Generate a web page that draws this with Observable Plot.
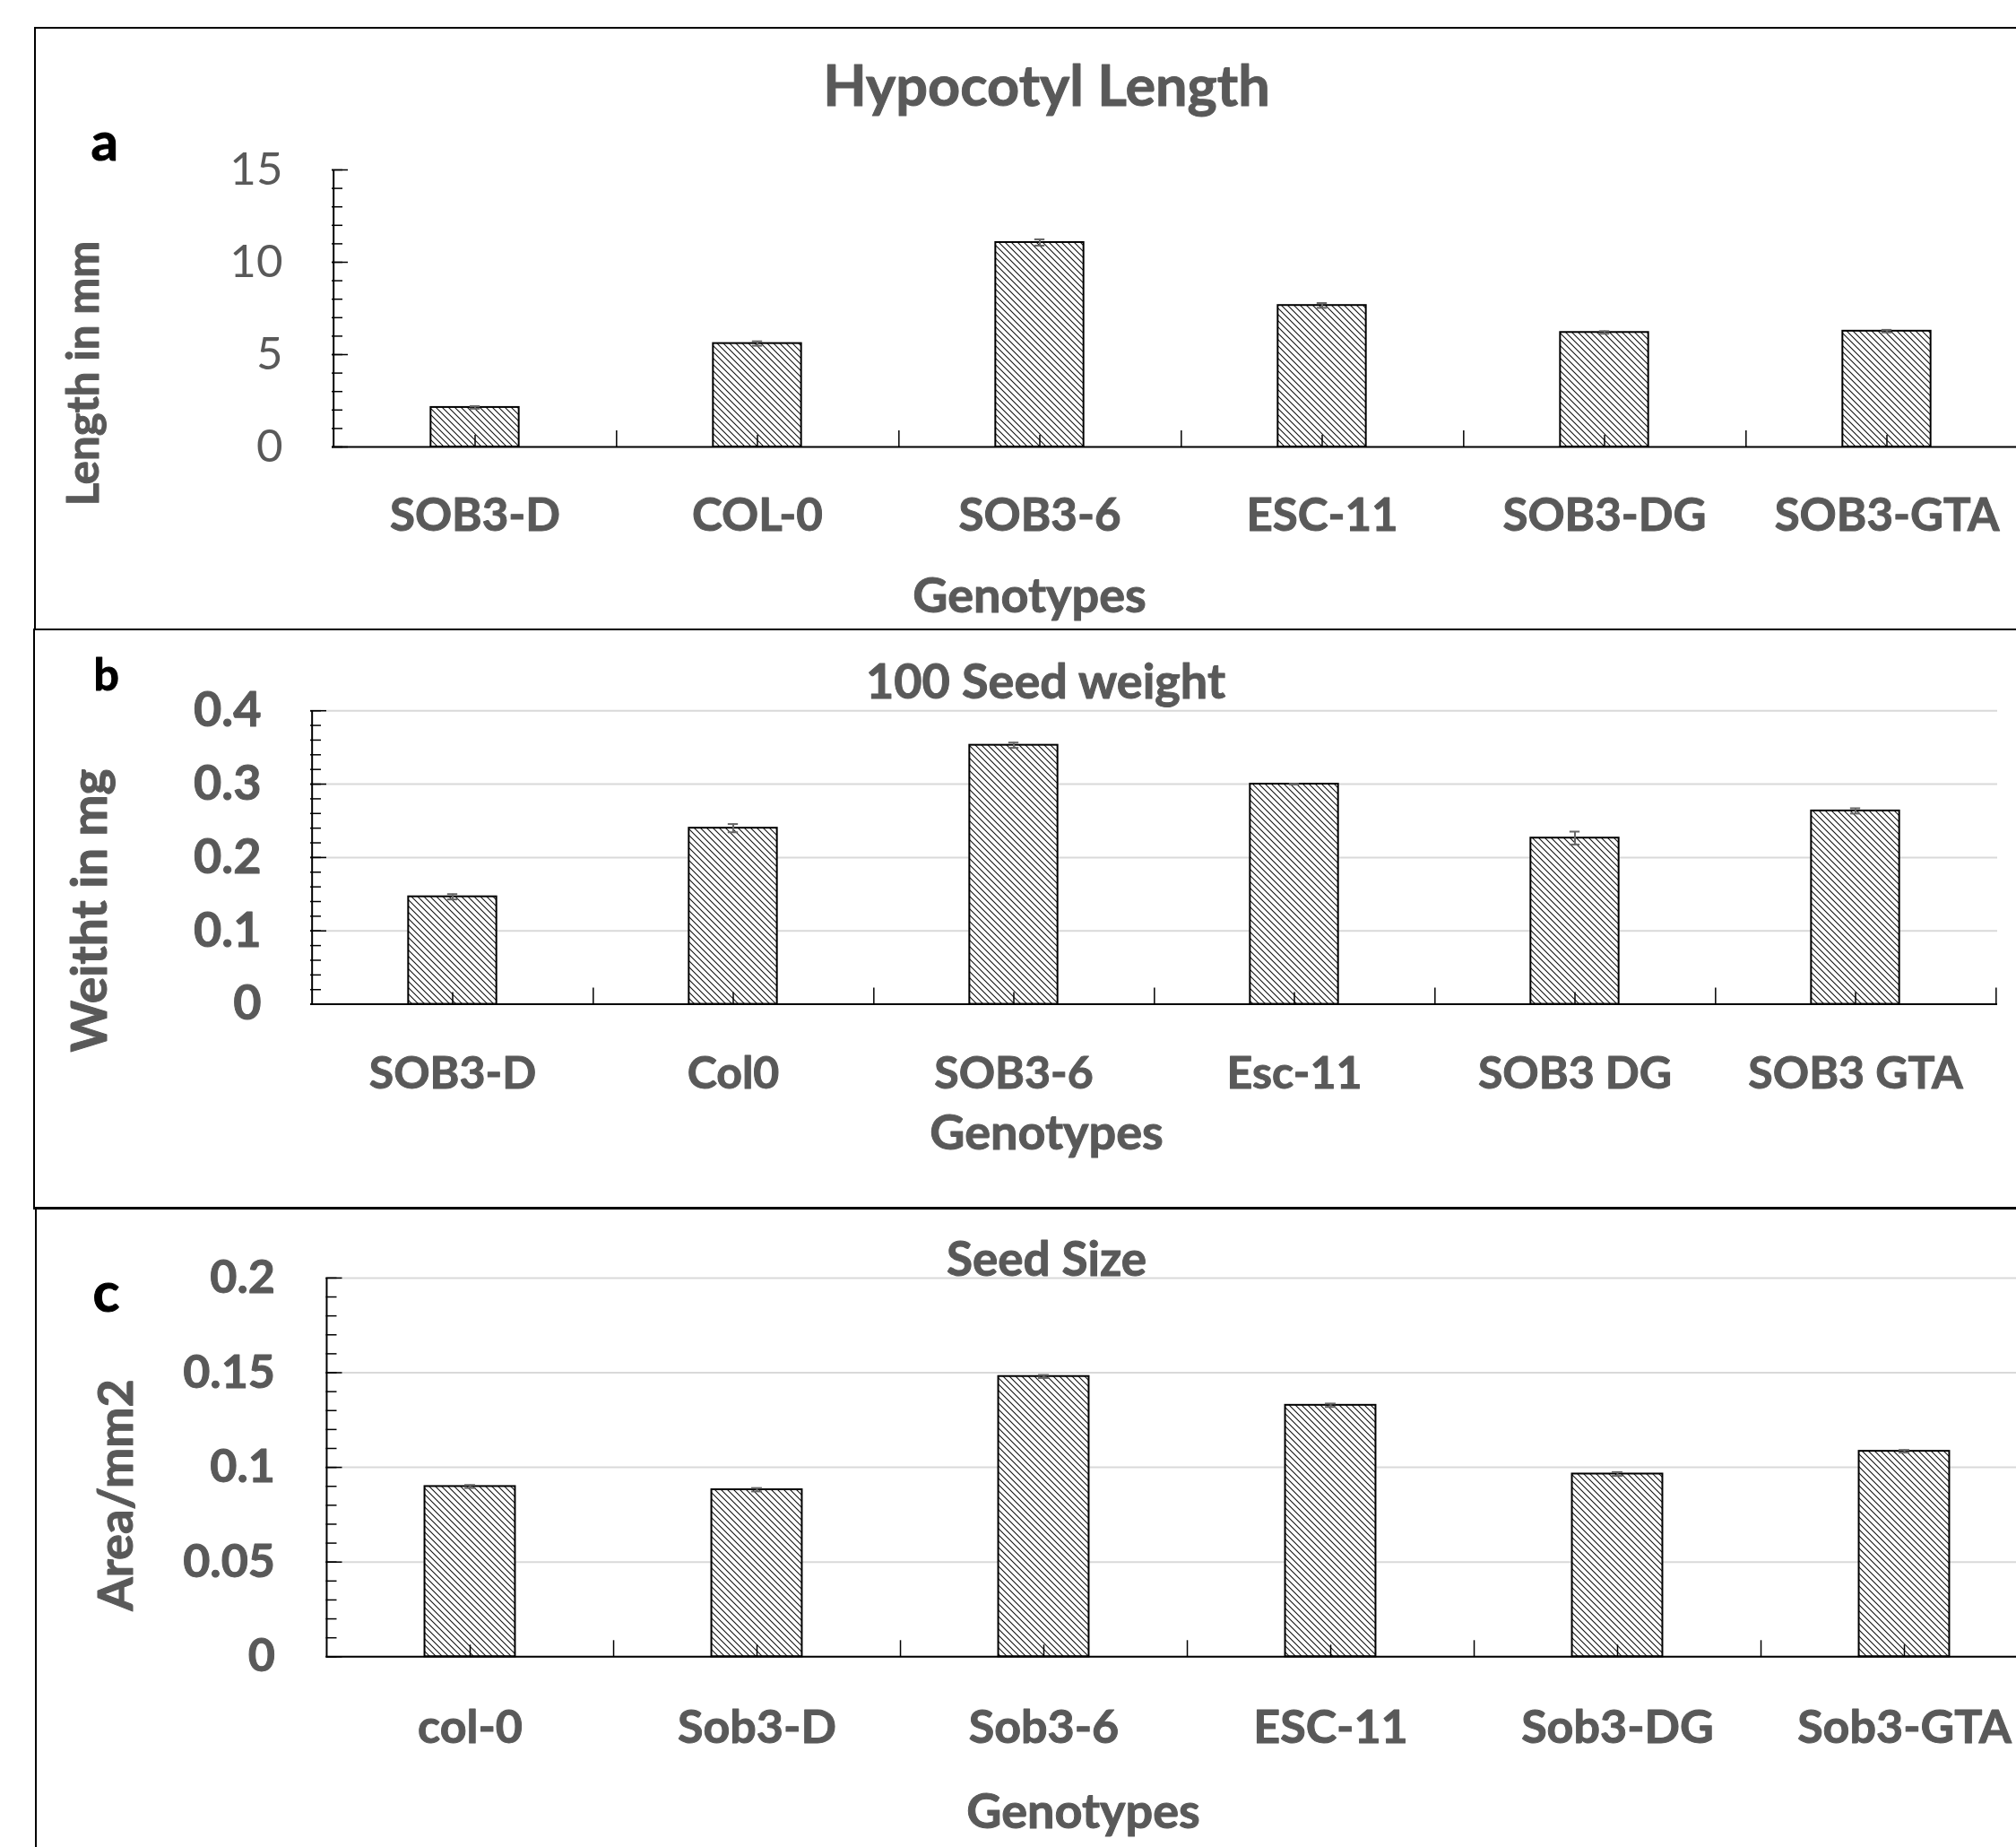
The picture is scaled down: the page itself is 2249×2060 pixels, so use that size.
<!DOCTYPE html>
<html>
<head>
<meta charset="utf-8">
<script src="https://cdn.jsdelivr.net/npm/d3@7"></script>
<script src="https://cdn.jsdelivr.net/npm/@observablehq/plot@0.6"></script>
<style>
  html, body { margin: 0; padding: 0; background: #fff; overflow: hidden; }
  #page { position: relative; width: 2249px; height: 2060px; overflow: hidden; background: #fff; font-family: Lato, sans-serif; }
  .panel { position: absolute; left: 0; width: 2249px; }
  .panel svg { display: block; overflow: hidden; max-width: none; }
  .frame { position: absolute; border: 2px solid #000; box-sizing: border-box; pointer-events: none; }
</style>
</head>
<body>
<svg width="0" height="0" style="position:absolute">
  <defs>
    <pattern id="hatch" patternUnits="userSpaceOnUse" width="7" height="7">
      <rect width="7" height="7" fill="#fff"></rect>
      <path d="M-1,-1L8,8M-8,-1L1,8M6,-1L15,8" stroke="#111" stroke-width="1.1" fill="none"></path>
    </pattern>
  </defs>
</svg>
<div id="page">
  <div class="panel" id="pa" style="top:31px"></div>
  <div class="panel" id="pb" style="top:702px"></div>
  <div class="panel" id="pc" style="top:1347px"></div>
  <div class="frame" style="left:38px; top:30px; width:2300px; height:673px"></div>
  <div class="frame" style="left:37px; top:701px; width:2300px; height:648px"></div>
  <div class="frame" style="left:39px; top:1346px; width:2300px; height:800px"></div>
</div>
<script>
// ---------------- data ----------------
// (a) Hypocotyl Length
const catsA = ["SOB3-D", "COL-0", "SOB3-6", "ESC-11", "SOB3-DG", "SOB3-GTA"];
const lengthA = [2.14, 5.60, 11.07, 7.66, 6.20, 6.27];
const errA = [0.07, 0.12, 0.17, 0.13, 0.07, 0.07];
const ticksA = [0, 5, 10, 15];

// (b) 100 Seed weight
const catsB = ["SOB3-D", "Col0", "SOB3-6", "Esc-11", "SOB3 DG", "SOB3 GTA"];
const weightB = [0.1465, 0.240, 0.353, 0.300, 0.2265, 0.2635];
const errB = [0.0036, 0.0056, 0.0036, 0.0005, 0.0088, 0.0036];
const ticksB = [0, 0.1, 0.2, 0.3, 0.4];

// (c) Seed Size
const catsC = ["col-0", "Sob3-D", "Sob3-6", "ESC-11", "Sob3-DG", "Sob3-GTA"];
const areaC = [0.0899, 0.0882, 0.1480, 0.1328, 0.0965, 0.1085];
const errC = [0.0008, 0.0009, 0.0008, 0.0009, 0.0010, 0.0007];
const ticksC = [0, 0.05, 0.1, 0.15, 0.2];

const GRAY = "#595959";
const W = 2249;

function panel(cfg) {
  const {cats, vals, errs, majors, minorCount, yMax, svgTop, height, mL, mR, mT, mB,
         barW, capW, catFont, catPad, tickFont, tickWeight, tickPad, tickStroke, grid, notes} = cfg;
  const rows = cats.map((c, i) => ({cat: c, v: vals[i], e: errs[i]}));
  const x0 = mL, x1 = W - mR;
  const step = (x1 - x0) / cats.length;
  const inset = (step - barW) / 2;
  const capInset = (step - capW) / 2;
  const txt = (t, px, py, o) => Plot.text([t], {
    text: d => d, frameAnchor: "top-left", dx: px - mL, dy: py - svgTop - mT,
    lineAnchor: "bottom", fontFamily: "Lato", strokeWidth: 1, paintOrder: "stroke", ...o
  });
  const marks = [];
  if (grid) marks.push(Plot.gridY({ticks: majors, stroke: "#d9d9d9", strokeOpacity: 1, strokeWidth: 2}));
  marks.push(
    Plot.barY(rows, {x: "cat", y: "v", fill: "url(#hatch)", stroke: "#000", strokeWidth: 2,
                     insetLeft: inset, insetRight: inset}),
    Plot.ruleX(rows, {x: "cat", y1: d => d.v - d.e, y2: d => d.v + d.e, stroke: "#666", strokeWidth: 2}),
    Plot.tickY(rows, {x: "cat", y: d => d.v + d.e, stroke: "#666", strokeWidth: 2, insetLeft: capInset, insetRight: capInset}),
    Plot.tickY(rows, {x: "cat", y: d => d.v - d.e, stroke: "#666", strokeWidth: 2, insetLeft: capInset, insetRight: capInset}),
    Plot.ruleY([0], {stroke: "#000", strokeWidth: 2}),
    Plot.ruleX([cats[0]], {y1: 0, y2: yMax, dx: -step / 2, stroke: "#000", strokeWidth: 2}),
    Plot.ruleX(cats, {y1: 0, y2: 0, insetTop: -18, dx: step / 2, stroke: "#000", strokeWidth: 1.5}),
    Plot.ruleX(cats, {y1: 0, y2: 0, insetTop: -13, stroke: "#000", strokeWidth: 1.5}),
    Plot.axisY({ticks: majors, tickSize: -18, fill: "none", stroke: "#000", strokeWidth: 1.5, label: null}),
    Plot.axisY({ticks: minorCount, tickSize: -12, fill: "none", stroke: "#000", strokeWidth: 1.5, label: null}),
    Plot.axisY({ticks: majors, tickSize: 0, tickPadding: tickPad, tickFormat: d => String(d),
                fill: GRAY, fontSize: tickFont, fontWeight: tickWeight, fontFamily: "Lato", label: null,
                textStroke: tickStroke ? GRAY : undefined, textStrokeWidth: tickStroke ? 1 : undefined}),
    Plot.axisX({tickSize: 0, tickPadding: catPad, fill: GRAY, fontSize: catFont, fontWeight: 700,
                fontFamily: "Lato", label: null, textStroke: GRAY, textStrokeWidth: 1}),
    ...notes(txt)
  );
  return Plot.plot({
    width: W, height, marginLeft: mL, marginRight: mR, marginTop: mT, marginBottom: mB,
    style: {fontFamily: "Lato, sans-serif", fontSize: "40px", color: GRAY, background: "transparent", overflow: "hidden"},
    x: {type: "band", domain: cats, range: [x0, x1], padding: 0},
    y: {type: "linear", domain: [0, yMax], range: [height - mB, mT]},
    marks
  });
}

document.getElementById("pa").append(panel({
  cats: catsA, vals: lengthA, errs: errA, majors: ticksA, minorCount: 15, yMax: 15,
  svgTop: 31, height: 670, mL: 370, mR: -15, mT: 158, mB: 203,
  barW: 99, capW: 12, catFont: 51, catPad: 57, tickFont: 51, tickWeight: 400, tickPad: 55, tickStroke: false, grid: false,
  notes: txt => [
    txt("Hypocotyl Length", 1167, 117, {textAnchor: "middle", fontSize: 63, fontWeight: 700, fill: GRAY, stroke: GRAY}),
    txt("a", 101, 178, {textAnchor: "start", fontSize: 60, fontWeight: 700, fill: "#000", stroke: "#000"}),
    txt("Genotypes", 1148, 682, {textAnchor: "middle", fontSize: 54, fontWeight: 700, fill: GRAY, stroke: GRAY}),
    txt("Length in mm", 109, 416, {textAnchor: "middle", rotate: -90, fontSize: 49, fontWeight: 700, fill: GRAY, stroke: GRAY})
  ]
}));

document.getElementById("pb").append(panel({
  cats: catsB, vals: weightB, errs: errB, majors: ticksB, minorCount: 20, yMax: 0.4,
  svgTop: 702, height: 646, mL: 346, mR: 21, mT: 90.2, mB: 228.4,
  barW: 99, capW: 12, catFont: 50, catPad: 58, tickFont: 54, tickWeight: 700, tickPad: 55, tickStroke: true, grid: true,
  notes: txt => [
    txt("100 Seed weight", 1166, 778, {textAnchor: "middle", fontSize: 54, fontWeight: 700, fill: GRAY, stroke: GRAY}),
    txt("b", 104, 769, {textAnchor: "start", fontSize: 50, fontWeight: 700, fill: "#000", stroke: "#000"}),
    txt("Genotypes", 1167, 1281, {textAnchor: "middle", fontSize: 54, fontWeight: 700, fill: GRAY, stroke: GRAY}),
    txt("Weitht in mg", 118, 1015, {textAnchor: "middle", rotate: -90, fontSize: 55, fontWeight: 700, fill: GRAY, stroke: GRAY})
  ]
}));

document.getElementById("pc").append(panel({
  cats: catsC, vals: areaC, errs: errC, majors: ticksC, minorCount: 20, yMax: 0.2,
  svgTop: 1347, height: 713, mL: 363.5, mR: -35, mT: 77.9, mB: 212.7,
  barW: 101, capW: 12, catFont: 52, catPad: 59, tickFont: 52, tickWeight: 700, tickPad: 57, tickStroke: true, grid: true,
  notes: txt => [
    txt("Seed Size", 1167, 1422, {textAnchor: "middle", fontSize: 53, fontWeight: 700, fill: GRAY, stroke: GRAY}),
    txt("c", 103, 1462, {textAnchor: "start", fontSize: 62, fontWeight: 700, fill: "#000", stroke: "#000"}),
    txt("Genotypes", 1208, 2038, {textAnchor: "middle", fontSize: 54, fontWeight: 700, fill: GRAY, stroke: GRAY}),
    txt("Area/mm2", 147, 1667, {textAnchor: "middle", rotate: -90, fontSize: 54, fontWeight: 700, fill: GRAY, stroke: GRAY})
  ]
}));
</script>
</body>
</html>
